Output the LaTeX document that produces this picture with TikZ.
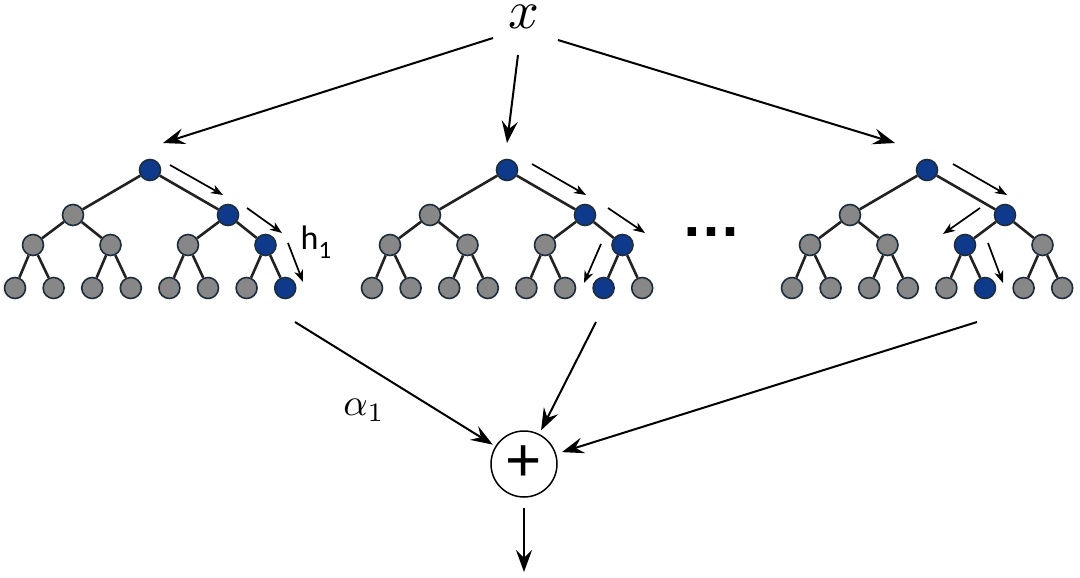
\documentclass[tikz,border=0pt]{standalone}
\usepackage{fontspec}
\usepackage{graphicx}
\usetikzlibrary{arrows.meta}
\newfontfamily\carl{Carlito}
\newfontfamily\arial{Liberation Sans}
\definecolor{nblue}{HTML}{0F3A8C}
\definecolor{ngray}{HTML}{878787}
\definecolor{nline}{HTML}{1E2D3D}
\definecolor{eline}{HTML}{222222}
\tikzset{
  tn/.style={circle, draw=nline, line width=1.6pt, minimum size=21pt, inner sep=0pt},
  edge/.style={draw=eline, line width=2.6pt},
  bigarrow/.style={draw=black, line width=2pt, -{Stealth[length=22pt, width=16pt, inset=8pt]}},
  smallarrow/.style={draw=black, line width=1.7pt, -{Stealth[length=12pt, width=9pt, inset=3.5pt]}},
}
\newcommand\mytree[5]{%
  \node[tn, fill=nblue] (#1-0) at (#2,170) {};
  \foreach \i in {0,1}{%
    \ifnum\i=#3\relax\def\fc{nblue}\else\def\fc{ngray}\fi
    \node[tn, fill=\fc] (#1-1-\i) at ({#2-77+155*\i},215) {};}
  \foreach \i in {0,...,3}{%
    \ifnum\i=#4\relax\def\fc{nblue}\else\def\fc{ngray}\fi
    \node[tn, fill=\fc] (#1-2-\i) at ({#2-117+77.5*\i},245) {};}
  \foreach \i in {0,...,7}{%
    \ifnum\i=#5\relax\def\fc{nblue}\else\def\fc{ngray}\fi
    \node[tn, fill=\fc] (#1-3-\i) at ({#2-135+38.6*\i},288) {};}
  \foreach \i in {0,1}{\draw[edge] (#1-0) -- (#1-1-\i);}
  \foreach \i in {0,...,3}{\pgfmathtruncatemacro\p{\i/2}\draw[edge] (#1-1-\p) -- (#1-2-\i);}
  \foreach \i in {0,...,7}{\pgfmathtruncatemacro\p{\i/2}\draw[edge] (#1-2-\p) -- (#1-3-\i);}
}
\begin{document}
\begin{tikzpicture}[x=1pt, y=-1pt]
\useasboundingbox (0,0) rectangle (1080,578);
\fill[white] (0,0) rectangle (1080,578);

% input
\node[inner sep=0pt] (x) at (524,17) {\scalebox{5.4}{$x$}};

% trees
\mytree{ta}{150}{1}{3}{7}
\mytree{tb}{507}{1}{3}{6}
\mytree{tc}{927}{1}{2}{5}

% dots
\node (dots) at (711,232) {\arial\bfseries\fontsize{60}{60}\selectfont …};

% combiner
\node[circle, draw=black, line width=1.5pt, minimum size=66pt, inner sep=0pt] (plus) at (524,464) {\arial\fontsize{62}{62}\selectfont +};

% coordinates
\coordinate (sl) at (493,38);
\coordinate (el) at (163,143);
\coordinate (sm) at (518,55);
\coordinate (em) at (507,143);
\coordinate (sr) at (558,40);
\coordinate (er) at (895,143);
\coordinate (c1) at (295,322);
\coordinate (c2) at (596,322);
\coordinate (c3) at (977,322);
\coordinate (out) at (524,572);

% top arrows
\draw[bigarrow] (sl) -- (el);
\draw[bigarrow] (sm) -- (em);
\draw[bigarrow] (sr) -- (er);

% bottom arrows
\draw[bigarrow, shorten >=3pt] (c1) -- (plus);
\draw[bigarrow, shorten >=4pt] (c2) -- (plus);
\draw[bigarrow, shorten >=6pt] (c3) -- (plus);
\draw[bigarrow, shorten <=10pt] (plus) -- (out);

% path arrows, tree a
\coordinate (a1s) at (170,165); \coordinate (a1e) at (223,195);
\coordinate (a2s) at (247,208); \coordinate (a2e) at (282,233);
\coordinate (a3s) at (288,243); \coordinate (a3e) at (303,282);
\draw[smallarrow] (a1s) -- (a1e);
\draw[smallarrow] (a2s) -- (a2e);
\draw[smallarrow] (a3s) -- (a3e);
% tree b
\coordinate (b1s) at (532,164); \coordinate (b1e) at (586,195);
\coordinate (b2s) at (608,208); \coordinate (b2e) at (645,233);
\coordinate (b3s) at (601,244); \coordinate (b3e) at (584,283);
\draw[smallarrow] (b1s) -- (b1e);
\draw[smallarrow] (b2s) -- (b2e);
\draw[smallarrow] (b3s) -- (b3e);
% tree c
\coordinate (c1s) at (953,164); \coordinate (c1e) at (1007,195);
\coordinate (c2s) at (980,208); \coordinate (c2e) at (943,234);
\coordinate (c3s) at (988,243); \coordinate (c3e) at (1003,283);
\draw[smallarrow] (c1s) -- (c1e);
\draw[smallarrow] (c2s) -- (c2e);
\draw[smallarrow] (c3s) -- (c3e);

% labels
\node[inner sep=0pt] (h1) at (316,242) {\carl\fontsize{34}{34}\selectfont h\raisebox{-0.28em}{\fontsize{25}{25}\selectfont 1}};
\node[inner sep=0pt] (a1) at (364,410) {\scalebox{3.8}{$\alpha_{1}$}};
\end{tikzpicture}
\end{document}
